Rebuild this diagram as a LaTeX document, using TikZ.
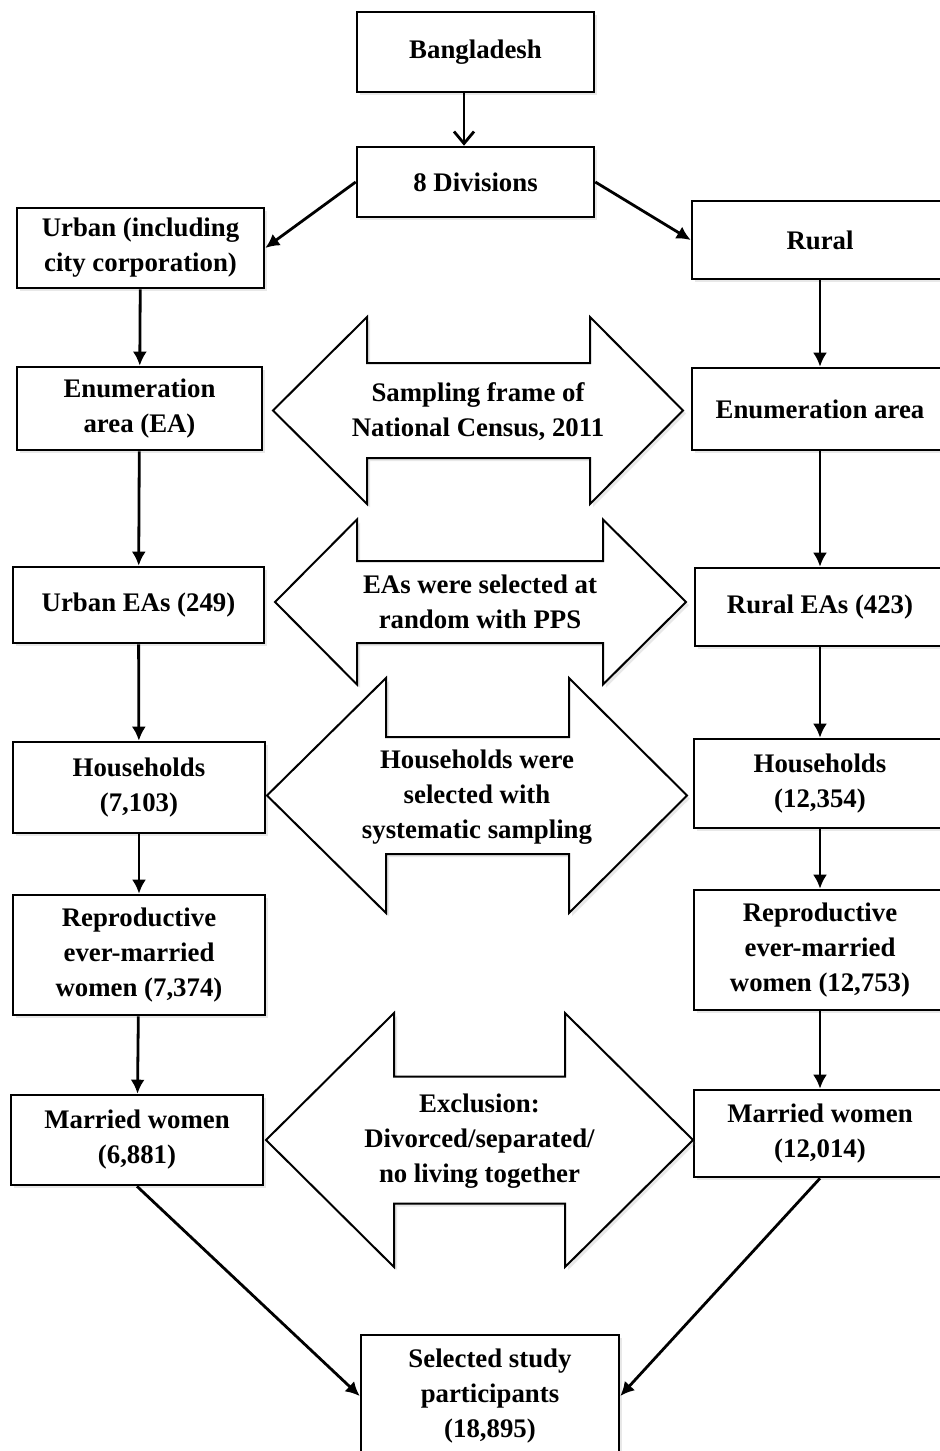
\documentclass[tikz,border=0pt]{standalone}
\usepackage{fontspec}
\setmainfont{Liberation Serif}
\usetikzlibrary{positioning,arrows.meta,shadows}

\tikzset{
	box/.style 2 args={draw, line width=1.3pt, fill=white, minimum width=#1, minimum height=#2,
		align=center, inner sep=2pt, font=\bfseries\fontsize{13.4}{17.5}\selectfont,
		drop shadow={shadow xshift=1.5pt, shadow yshift=-1.5pt, opacity=0.18}},
	note/.style={align=center, font=\bfseries\fontsize{13.4}{17.5}\selectfont},
	flow/.style={line width=1.4pt, -{Latex[length=7pt,width=7pt]}},
	bigarrow/.style={draw, line width=1pt, fill=white, line join=miter,
		drop shadow={shadow xshift=1.5pt, shadow yshift=-1.5pt, opacity=0.18}}
}

% tip left, tip right, middle y, head base left, head base right, head half, shaft half
\newcommand{\twoarrow}[7]{%
	\draw[bigarrow] (#1,#3) -- (#4,#3-#6) -- (#4,#3-#7) -- (#5,#3-#7) -- (#5,#3-#6) -- (#2,#3)
		-- (#5,#3+#6) -- (#5,#3+#7) -- (#4,#3+#7) -- (#4,#3+#6) -- cycle;}

\begin{document}
\begin{tikzpicture}[x=0.5pt,y=-0.5pt]
	\clip (0,0) rectangle (940,1451);
	\fill[white] (0,0) rectangle (940,1451);

	% boxes
	\node[box={118.5pt}{40pt}] (bang) at (475.5,52) {Bangladesh};
	\node[box={118.5pt}{35pt}] (div) at (475.5,182) {8 Divisions};
	\node[box={123.5pt}{40pt}] (urban) at (140.5,248) {Urban (including\\city corporation)};
	\node[box={128pt}{39pt}] (rural) at (820,240) {Rural};
	\node[box={122.5pt}{41.5pt}] (enuml) at (139.5,408.5) {Enumeration\\area (EA)};
	\node[box={128pt}{41pt}] (enumr) at (820,409) {Enumeration area};
	\node[box={125.5pt}{38pt}] (ueas) at (138.5,605) {Urban EAs (249)};
	\node[box={125pt}{39pt}] (reas) at (820,607) {Rural EAs (423)};
	\node[box={126pt}{45.5pt}] (hhl) at (139,787.5) {Households\\(7,103)};
	\node[box={126pt}{44.5pt}] (hhr) at (820,783.5) {Households\\(12,354)};
	\node[box={126pt}{60pt}] (repl) at (139,955) {Reproductive\\ever-married\\women (7,374)};
	\node[box={126pt}{60pt}] (repr) at (820,950) {Reproductive\\ever-married\\women (12,753)};
	\node[box={126pt}{45pt}] (marl) at (137,1140) {Married women\\(6,881)};
	\node[box={126pt}{43.5pt}] (marr) at (820,1133.5) {Married women\\(12,014)};
	\node[box={129pt}{61pt}] (sel) at (490,1396) {Selected study\\participants\\(18,895)};

	% double arrows
	\twoarrow{273}{683}{410.5}{367}{590}{93.5}{47.5}
	\node[note] (frame) at (478,412) {Sampling frame of\\National Census, 2011};
	\twoarrow{275}{686}{602}{357}{603}{82.5}{41}
	\node[note] (pps) at (480,602) {EAs were selected at\\random with PPS};
	\twoarrow{267}{687}{795.5}{386}{569}{117.5}{58.5}
	\node[note] (syst) at (477,797) {Households were\\selected with\\systematic sampling};
	\twoarrow{266}{693}{1140}{394}{565}{127}{63.5}
	\node[note] (excl) at (479.5,1141) {Exclusion:\\Divorced/separated/\\no living together};

	% connectors
	\draw[line width=1.4pt, -{Straight Barb[length=6pt,width=10pt]}] ([xshift=-5.75pt]bang.south) -- ([xshift=-5.75pt]div.north);
	\draw[flow] (div.west) -- (urban.east);
	\draw[flow] (div.east) -- (rural.west);
	\draw[flow] (urban) -- (enuml);
	\draw[flow] (rural) -- (enumr);
	\draw[flow] (enuml) -- (ueas);
	\draw[flow] (enumr) -- (reas);
	\draw[flow] (ueas) -- (hhl);
	\draw[flow] (reas) -- (hhr);
	\draw[flow] (hhl) -- (repl);
	\draw[flow] (hhr) -- (repr);
	\draw[flow] (repl) -- (marl);
	\draw[flow] (repr) -- (marr);
	\draw[flow] (marl.south) -- (sel.west);
	\draw[flow] (marr.south) -- (sel.east);
\end{tikzpicture}
\end{document}
